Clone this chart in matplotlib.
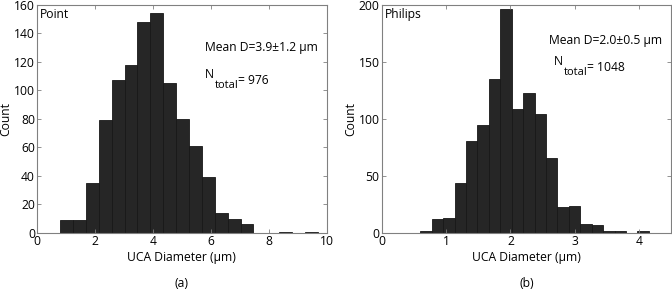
import numpy as np
import matplotlib
matplotlib.use("Agg")
import matplotlib.pyplot as plt

plt.rcParams['font.family'] = ['Open Sans', 'DejaVu Sans']
plt.rcParams['font.size'] = 8.7

# panel (a): Point
point_edges = np.linspace(0.8, 9.7, 21)
point_counts = [9, 9, 35, 79, 107, 118, 148, 154, 105, 80,
                61, 39, 14, 10, 6, 0, 0, 1, 0, 1]

# panel (b): Philips
philips_edges = np.linspace(0.6, 4.15, 21)
philips_counts = [2, 12, 13, 44, 81, 95, 135, 196, 109, 123,
                  104, 66, 23, 24, 8, 7, 2, 2, 0, 2]

panels = [
    dict(edges=point_edges, counts=point_counts, name='Point', xlim=(0, 10), ylim=(0, 160),
         xticks=[0, 2, 4, 6, 8, 10], yticks=range(0, 161, 20),
         mean='Mean D=3.9\u00b11.2 \u03bcm', n='976', mpos=(5.8, 130), npos=(5.8, 108.5), tag='(a)'),
    dict(edges=philips_edges, counts=philips_counts, name='Philips', xlim=(0, 4.5), ylim=(0, 200),
         xticks=[0, 1, 2, 3, 4], yticks=range(0, 201, 50),
         mean='Mean D=2.0\u00b10.5 \u03bcm', n='1048', mpos=(2.6, 169), npos=(2.68, 147), tag='(b)'),
]

fig = plt.figure(figsize=(6.72, 2.89), dpi=100)
lefts = [0.055, 0.568]

for left, p in zip(lefts, panels):
    ax = fig.add_axes([left, 0.194, 0.431, 0.789])
    e = np.asarray(p['edges'])
    ax.bar(e[:-1], p['counts'], width=np.diff(e), align='edge',
           color='#262626', edgecolor='#181818', linewidth=0.6)
    ax.set_xlim(*p['xlim'])
    ax.set_ylim(*p['ylim'])
    ax.set_xticks(p['xticks'])
    ax.set_yticks(list(p['yticks']))
    ax.tick_params(direction='in', top=True, right=True, length=3, width=0.6,
                   color='#808080', labelsize=8.7, pad=1.5)
    for s in ax.spines.values():
        s.set_color('#808080')
        s.set_linewidth(0.8)
    ax.set_xlabel('UCA Diameter (\u03bcm)', labelpad=2)
    ax.set_ylabel('Count', labelpad=1)
    ax.text(0.01, 0.985, p['name'], transform=ax.transAxes, ha='left', va='top')
    ax.text(p['mpos'][0], p['mpos'][1], p['mean'], ha='left', va='center')
    # N with a "total" subscript, then "= n"
    tn = ax.text(p['npos'][0], p['npos'][1], 'N', ha='left', va='baseline')
    tt = ax.annotate('total', xy=(1, 0), xycoords=tn, xytext=(0.3, -4.5),
                     textcoords='offset points', ha='left', va='baseline', fontsize=8)
    ax.annotate('= ' + p['n'], xy=(1, 0), xycoords=tt, xytext=(0, 4.5),
                textcoords='offset points', ha='left', va='baseline')
    fig.text(left + 0.2155, 0.02, p['tag'], ha='center', va='center')

fig.savefig('out.png', dpi=100)
